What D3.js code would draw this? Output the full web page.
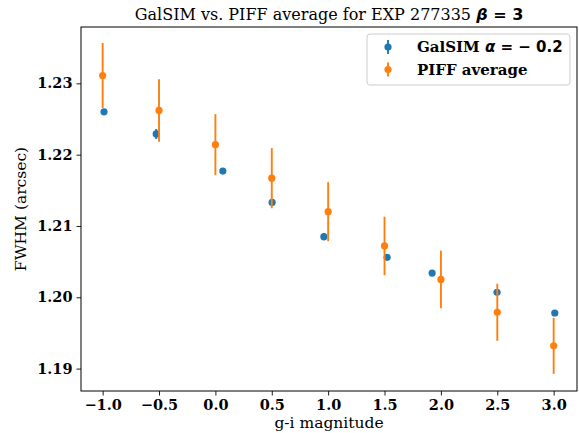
<!DOCTYPE html>
<html>
<head>
<meta charset="utf-8">
<script src="https://cdn.jsdelivr.net/npm/d3@7"></script>
<style>
  html, body { margin: 0; padding: 0; background: #fff; }
  svg { display: block; }
</style>
</head>
<body>
<div id="chart"></div>
<script>
// ---- data ----
const galsimX = [-0.988, -0.525, 0.066, 0.503, 0.962, 1.523, 1.922, 2.498, 3.010];
const galsimY = [1.2260, 1.2229, 1.2177, 1.2133, 1.2085, 1.2056, 1.2034, 1.2007, 1.1978];
const galsimErr = [0.0003, 0.0007, 0.0004, 0.0003, 0.0005, 0.0003, 0.0003, 0.0003, 0.0002];

const piffX = [-1.0, -0.5, 0.0, 0.5, 1.0, 1.5, 2.0, 2.5, 3.0];
const piffY = [1.2311, 1.2262, 1.2214, 1.2167, 1.2120, 1.2072, 1.2025, 1.1979, 1.1932];
const piffErr = [0.00455, 0.00439, 0.00428, 0.00421, 0.00414, 0.00410, 0.00403, 0.00400, 0.00393];

const xTicks = [-1.0, -0.5, 0.0, 0.5, 1.0, 1.5, 2.0, 2.5, 3.0];
const yTicks = [1.19, 1.20, 1.21, 1.22, 1.23];

const seriesNames = ["GalSIM", "PIFF average"];
const colors = ["#1f77b4", "#ff7f0e"];

// ---- layout ----
const W = 579, H = 433;
const m = { left: 81, right: 2, top: 27, bottom: 42 };
const pw = W - m.left - m.right;
const ph = H - m.top - m.bottom;

const x = d3.scaleLinear().domain([-1.192, 3.207]).range([m.left, m.left + pw]);
const y = d3.scaleLinear().domain([1.18686, 1.2379]).range([m.top + ph, m.top]);

const svg = d3.select("#chart").append("svg")
  .attr("width", W).attr("height", H)
  .style("font-family", "'DejaVu Serif', serif");

svg.append("rect").attr("width", W).attr("height", H).attr("fill", "#fff");

// axes
const tickFont = "bold 14.5px 'DejaVu Serif', serif";
const xAxis = d3.axisBottom(x).tickValues(xTicks).tickFormat(d => d3.format(".1f")(d).replace("-", "\u2212")).tickSizeOuter(0).tickSize(4.5).tickPadding(4);
const yAxis = d3.axisLeft(y).tickValues(yTicks).tickFormat(d3.format(".2f")).tickSizeOuter(0).tickSize(4.5).tickPadding(4);

const gx = svg.append("g").attr("transform", `translate(0,${m.top + ph})`).call(xAxis);
const gy = svg.append("g").attr("transform", `translate(${m.left},0)`).call(yAxis);
[gx, gy].forEach(g => {
  g.select(".domain").remove();
  g.selectAll(".tick line").attr("stroke", "#000").attr("stroke-width", 0.9);
  g.selectAll(".tick text").style("font", tickFont).attr("fill", "#000");
});

// frame
svg.append("rect")
  .attr("x", m.left).attr("y", m.top).attr("width", pw).attr("height", ph)
  .attr("fill", "none").attr("stroke", "#000").attr("stroke-width", 1);

// series
function drawSeries(xs, ys, es, color) {
  const g = svg.append("g");
  const data = xs.map((xv, i) => ({ x: xv, y: ys[i], e: es[i] }));
  g.selectAll("line").data(data).enter().append("line")
    .attr("x1", d => x(d.x)).attr("x2", d => x(d.x))
    .attr("y1", d => y(d.y - d.e)).attr("y2", d => y(d.y + d.e))
    .attr("stroke", color).attr("stroke-width", 1.9);
  g.selectAll("circle").data(data).enter().append("circle")
    .attr("cx", d => x(d.x)).attr("cy", d => y(d.y)).attr("r", 3.6)
    .attr("fill", color);
}
drawSeries(galsimX, galsimY, galsimErr, colors[0]);
drawSeries(piffX, piffY, piffErr, colors[1]);

// title
const title = svg.append("text")
  .attr("x", m.left + pw / 2).attr("y", 20)
  .attr("text-anchor", "middle")
  .style("font-size", "16px").attr("fill", "#000");
title.append("tspan").style("font-family", "'DejaVu Serif', serif").text("GalSIM vs. PIFF average for EXP 277335 ");
title.append("tspan").style("font-family", "'DejaVu Sans', sans-serif").style("font-weight", "bold").style("font-style", "italic").text("\u03b2");
title.append("tspan").style("font-family", "'DejaVu Sans', sans-serif").style("font-weight", "bold").text(" = 3");

// axis labels
svg.append("text").attr("x", m.left + pw / 2).attr("y", 428)
  .attr("text-anchor", "middle").style("font-size", "15.5px")
  .attr("fill", "#000").text("g-i magnitude");
svg.append("text").attr("transform", `translate(26,${m.top + ph / 2}) rotate(-90)`)
  .attr("text-anchor", "middle").style("font-size", "15.5px")
  .attr("fill", "#000").text("FWHM (arcsec)");

// legend
const lg = svg.append("g");
lg.append("rect").attr("x", 367).attr("y", 34).attr("width", 203).attr("height", 51)
  .attr("rx", 3).attr("fill", "#fff").attr("fill-opacity", 0.8)
  .attr("stroke", "#ccc").attr("stroke-width", 1);
const rows = [47, 69.5];
rows.forEach((ry, i) => {
  lg.append("line").attr("x1", 388).attr("x2", 388).attr("y1", ry - 7).attr("y2", ry + 7)
    .attr("stroke", colors[i]).attr("stroke-width", 1.9);
  lg.append("circle").attr("cx", 388).attr("cy", ry).attr("r", 3.6).attr("fill", colors[i]);
});
const t1 = lg.append("text").attr("x", 417).attr("y", rows[0] + 5)
  .style("font-size", "15px").style("font-weight", "bold").attr("fill", "#000");
t1.append("tspan").style("font-family", "'DejaVu Serif', serif").text(seriesNames[0] + " ");
t1.append("tspan").style("font-family", "'DejaVu Sans', sans-serif").style("font-style", "italic").text("\u03b1");
t1.append("tspan").style("font-family", "'DejaVu Sans', sans-serif").text(" =  \u2212 0.2");
lg.append("text").attr("x", 417).attr("y", rows[1] + 5)
  .style("font-size", "15px").style("font-weight", "bold")
  .style("font-family", "'DejaVu Serif', serif").attr("fill", "#000").text(seriesNames[1]);
</script>
</body>
</html>
